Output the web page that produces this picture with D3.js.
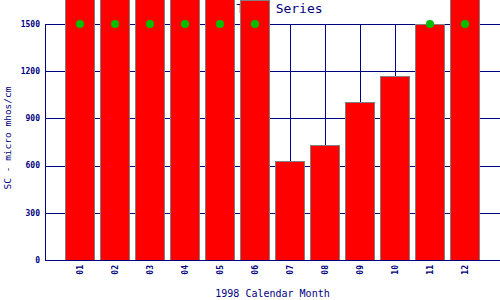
<!DOCTYPE html>
<html>
<head>
<meta charset="utf-8">
<script src="https://cdn.jsdelivr.net/npm/d3@7"></script>
<style>
  body { margin: 0; background: #fff; }
  text { font-family: "DejaVu Sans Mono", monospace; fill: #000080; }
</style>
</head>
<body>
<svg width="500" height="300"></svg>
<script>
// chart data
const months = ["01", "02", "03", "04", "05", "06", "07", "08", "09", "10", "11", "12"];
const scValues = [1850, 1850, 1850, 1850, 1850, 1650, 632, 734, 1006, 1172, 1500, 1850];
const markerValues = [1500, 1500, 1500, 1500, 1500, 1500, null, null, null, null, 1500, 1500];
const yTicks = [0, 300, 600, 900, 1200, 1500];

const svg = d3.select("svg"),
    width = +svg.attr("width"),
    height = +svg.attr("height");

const plotLeft = 45, plotRight = 500, plotTop = 24, plotBottom = 260;
const navy = "#000080";

const x = d3.scaleBand()
    .domain(months)
    .range([plotLeft, plotRight])
    .paddingInner(1 / 7)
    .paddingOuter(4 / 7);

const y = d3.scaleLinear()
    .domain([0, 1500])
    .range([plotBottom, plotTop]);

const px = v => Math.round(v) + 0.5;

// title (sits behind the tall bars)
svg.append("text")
    .attr("x", 236.5)
    .attr("y", 13)
    .attr("font-size", 13)
    .text("Time Series");

// horizontal grid
svg.append("g")
    .selectAll("line")
    .data(yTicks)
    .join("line")
    .attr("x1", plotLeft)
    .attr("x2", plotRight)
    .attr("y1", d => px(y(d)))
    .attr("y2", d => px(y(d)))
    .attr("stroke", navy);

// vertical grid at month centres
svg.append("g")
    .selectAll("line")
    .data(months)
    .join("line")
    .attr("x1", d => px(x(d) + x.bandwidth() / 2))
    .attr("x2", d => px(x(d) + x.bandwidth() / 2))
    .attr("y1", y(1500))
    .attr("y2", y(0))
    .attr("stroke", navy);

// y axis line
svg.append("line")
    .attr("x1", px(plotLeft)).attr("x2", px(plotLeft))
    .attr("y1", y(1500)).attr("y2", px(y(0)))
    .attr("stroke", navy);

// bars
svg.append("g")
    .selectAll("rect")
    .data(scValues)
    .join("rect")
    .attr("x", (d, i) => x(months[i]) + 0.5)
    .attr("y", d => Math.round(y(d)) + 0.5)
    .attr("width", x.bandwidth() - 1)
    .attr("height", d => Math.round(y(0)) - Math.round(y(d)))
    .attr("fill", "#ff0000")
    .attr("stroke", "#808080");

// x axis line
svg.append("line")
    .attr("x1", plotLeft).attr("x2", plotRight)
    .attr("y1", px(y(0))).attr("y2", px(y(0)))
    .attr("stroke", navy);

// green markers
svg.append("g")
    .selectAll("circle")
    .data(markerValues.map((v, i) => ({ m: months[i], v })).filter(d => d.v !== null))
    .join("circle")
    .attr("cx", d => x(d.m) + x.bandwidth() / 2)
    .attr("cy", d => y(d.v))
    .attr("r", 4)
    .attr("fill", "#00c000");

// y tick labels
svg.append("g")
    .selectAll("text")
    .data(yTicks)
    .join("text")
    .attr("x", 40)
    .attr("y", d => y(d))
    .attr("dy", "0.35em")
    .attr("text-anchor", "end")
    .attr("font-size", 8)
    .attr("font-weight", "bold")
    .text(d => d);

// x tick labels, rotated
svg.append("g")
    .selectAll("text")
    .data(months)
    .join("text")
    .attr("transform", d => "translate(" + (x(d) + x.bandwidth() / 2) + "," + 265 + ") rotate(-90)")
    .attr("dy", "0.35em")
    .attr("text-anchor", "end")
    .attr("font-size", 8)
    .attr("font-weight", "bold")
    .text(d => d);

// axis titles
svg.append("text")
    .attr("x", (plotLeft + plotRight) / 2)
    .attr("y", 297)
    .attr("text-anchor", "middle")
    .attr("font-size", 10)
    .text("1998 Calendar Month");

svg.append("text")
    .attr("transform", "translate(11," + 138 + ") rotate(-90)")
    .attr("text-anchor", "middle")
    .attr("font-size", 9.5)
    .text("SC - micro mhos/cm");
</script>
</body>
</html>
